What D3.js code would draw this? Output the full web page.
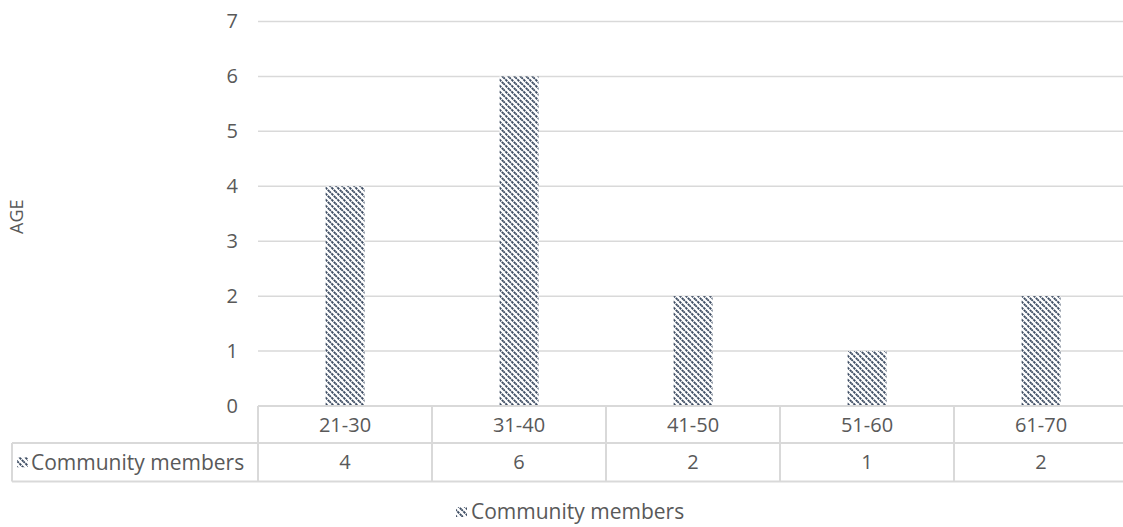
<!DOCTYPE html>
<html>
<head>
<meta charset="utf-8">
<script src="https://cdn.jsdelivr.net/npm/d3@7"></script>
<style>
  html, body { margin: 0; padding: 0; background: #fff; }
  svg { display: block; font-family: "Open Sans", "Noto Sans", sans-serif; }
</style>
</head>
<body>
<svg id="chart" width="1123" height="527"></svg>
<script>
// Age groups and number of community members in each
const categories = ["21-30", "31-40", "41-50", "51-60", "61-70"];
const members = [4, 6, 2, 1, 2];
const yTicks = [0, 1, 2, 3, 4, 5, 6, 7];
const seriesName = "Community members";
const yTitle = "AGE";

const svg = d3.select("#chart");
const plot = { left: 258, right: 1128, top: 21.5, bottom: 406 };
const rowH1 = 37, rowH2 = 38.5;
const textColor = "#595959";
const lineColor = "#d9d9d9";
const fontSize = 20;
const legendFontSize = 21;

// Diagonal hatched fill for the bars
const defs = svg.append("defs");
const pat = defs.append("pattern")
  .attr("id", "hatch")
  .attr("patternUnits", "userSpaceOnUse")
  .attr("width", 6).attr("height", 6);
pat.append("rect").attr("width", 6).attr("height", 6).attr("fill", "#fff");
pat.append("path")
  .attr("d", "M-1,-1 L7,7 M-1,5 L1,7 M5,-1 L7,1")
  .attr("stroke", "#3e4d63").attr("stroke-width", 1.9)
  .attr("stroke-dasharray", "2.6,0.8");

const x = d3.scaleBand()
  .domain(categories)
  .range([plot.left, plot.right])
  .paddingInner(0).paddingOuter(0);

const y = d3.scaleLinear()
  .domain([0, 7])
  .range([plot.bottom, plot.top]);

// Horizontal gridlines
svg.append("g")
  .selectAll("line")
  .data(yTicks.filter(d => d > 0))
  .join("line")
  .attr("x1", plot.left).attr("x2", plot.right)
  .attr("y1", d => y(d)).attr("y2", d => y(d))
  .attr("stroke", lineColor).attr("stroke-width", 1.5);

// Y axis tick labels
const yAxis = d3.axisLeft(y).tickValues(yTicks).tickFormat(d3.format("d")).tickSize(0).tickPadding(20);
const yg = svg.append("g")
  .attr("transform", `translate(${plot.left},0)`)
  .call(yAxis);
yg.select(".domain").remove();
yg.selectAll("text")
  .attr("fill", textColor)
  .style("font-size", fontSize + "px")
  .style("font-family", "'Open Sans', sans-serif");

// Y axis title
svg.append("text")
  .attr("transform", `translate(23,${(plot.top + plot.bottom) / 2 + 3}) rotate(-90)`)
  .attr("text-anchor", "middle")
  .attr("fill", textColor)
  .style("font-size", "18px")
  .text(yTitle);

// Bars
const barW = 39;
svg.append("g")
  .selectAll("rect")
  .data(categories.map((c, i) => ({ c, v: members[i] })))
  .join("rect")
  .attr("x", d => x(d.c) + x.bandwidth() / 2 - barW / 2)
  .attr("y", d => y(d.v))
  .attr("width", barW)
  .attr("height", d => y(0) - y(d.v))
  .attr("fill", "url(#hatch)");

// Data table below the plot
const t = svg.append("g").attr("stroke", lineColor).attr("stroke-width", 2).attr("fill", "none");
const r0 = plot.bottom, r1 = plot.bottom + rowH1, r2 = r1 + rowH2;
const legendLeft = 12;
t.append("line").attr("x1", plot.left).attr("x2", plot.right).attr("y1", r0).attr("y2", r0);
t.append("line").attr("x1", legendLeft).attr("x2", plot.right).attr("y1", r1).attr("y2", r1);
t.append("line").attr("x1", legendLeft).attr("x2", plot.right).attr("y1", r2).attr("y2", r2);
t.append("line").attr("x1", legendLeft).attr("x2", legendLeft).attr("y1", r1).attr("y2", r2);
t.selectAll("line.v")
  .data(categories.concat(["end"]))
  .join("line")
  .attr("class", "v")
  .attr("x1", (d, i) => plot.left + i * x.bandwidth())
  .attr("x2", (d, i) => plot.left + i * x.bandwidth())
  .attr("y1", r0).attr("y2", r2);

// Category labels row
svg.append("g")
  .selectAll("text")
  .data(categories)
  .join("text")
  .attr("x", d => x(d) + x.bandwidth() / 2)
  .attr("y", (r0 + r1) / 2)
  .attr("dy", "0.35em")
  .attr("text-anchor", "middle")
  .attr("fill", textColor)
  .style("font-size", fontSize + "px")
  .text(d => d);

// Values row
svg.append("g")
  .selectAll("text")
  .data(categories.map((c, i) => ({ c, v: members[i] })))
  .join("text")
  .attr("x", d => x(d.c) + x.bandwidth() / 2)
  .attr("y", (r1 + r2) / 2)
  .attr("dy", "0.35em")
  .attr("text-anchor", "middle")
  .attr("fill", textColor)
  .style("font-size", fontSize + "px")
  .text(d => d.v);

// Legend key swatch
function legendKey(g, x0, yc) {
  g.append("rect")
    .attr("x", x0).attr("y", yc - 5)
    .attr("width", 11).attr("height", 10)
    .attr("fill", "url(#hatch)");
}

// Series label in the table's row header
const lk = svg.append("g");
legendKey(lk, 17, (r1 + r2) / 2);
lk.append("text")
  .attr("x", 31).attr("y", (r1 + r2) / 2)
  .attr("dy", "0.35em")
  .attr("fill", textColor)
  .style("font-size", legendFontSize + "px")
  .text(seriesName);

// Bottom legend
const lb = svg.append("g");
legendKey(lb, 456, 512);
lb.append("text")
  .attr("x", 471).attr("y", 512)
  .attr("dy", "0.35em")
  .attr("fill", textColor)
  .style("font-size", legendFontSize + "px")
  .text(seriesName);
</script>
</body>
</html>
